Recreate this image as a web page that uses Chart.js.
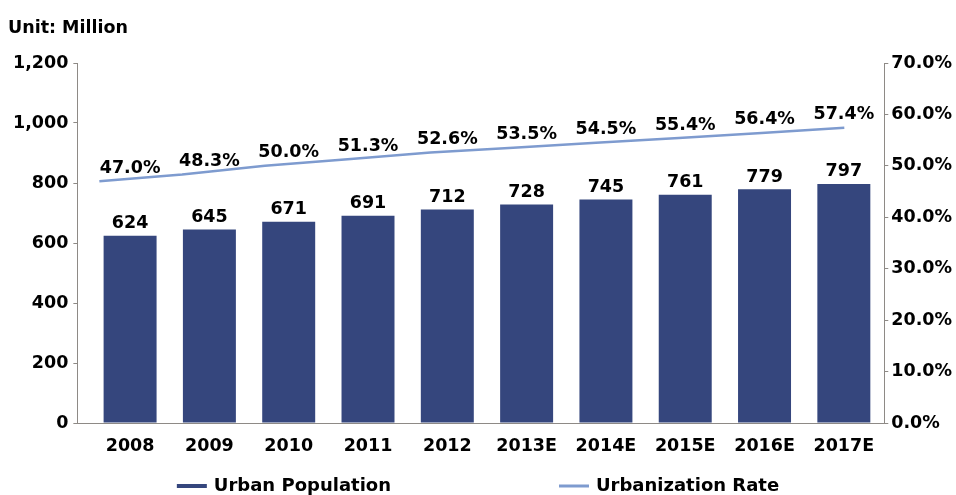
<!DOCTYPE html>
<html>
<head>
<meta charset="utf-8">
<script src="https://cdn.jsdelivr.net/npm/chart.js@4.4.1/dist/chart.umd.min.js"></script>
<style>
  html, body { margin: 0; padding: 0; background: #ffffff; }
  #wrap { width: 956px; height: 495px; }
</style>
</head>
<body>
<div id="wrap"><canvas id="urban-chart"></canvas></div>
<script>
const years = ['2008', '2009', '2010', '2011', '2012', '2013E', '2014E', '2015E', '2016E', '2017E'];
const population = [624, 645, 671, 691, 712, 728, 745, 761, 779, 797];
const urbanRate = [47.0, 48.3, 50.0, 51.3, 52.6, 53.5, 54.5, 55.4, 56.4, 57.4];
const popTicks = [0, 200, 400, 600, 800, 1000, 1200];
const rateTicks = [0, 10, 20, 30, 40, 50, 60, 70];

const FONT = '"DejaVu Sans", sans-serif';
const FONT_SIZE = 17.5;
const NAVY = '#35467d';
const LIGHT_BLUE = '#7e9bcf';
const AXIS_GREY = '#8e8a86';

// value labels above the bars and the rate labels above the line
const valueLabels = {
    id: 'valueLabels',
    afterDatasetsDraw(chart) {
        const ctx = chart.ctx;
        const bars = chart.getDatasetMeta(0).data;
        const yRate = chart.scales.yRate;
        ctx.save();
        ctx.font = 'bold ' + FONT_SIZE + 'px ' + FONT;
        ctx.fillStyle = '#000';
        ctx.textAlign = 'center';
        ctx.textBaseline = 'middle';
        bars.forEach((bar, i) => {
            ctx.fillText(String(population[i]), bar.x, bar.y - 12);
            ctx.fillText(urbanRate[i].toFixed(1) + '%', bar.x, yRate.getPixelForValue(urbanRate[i]) - 13);
        });
        ctx.restore();
    }
};

// legend row at the bottom, wide gap between the two entries
const bottomLegend = {
    id: 'bottomLegend',
    afterDraw(chart) {
        const ctx = chart.ctx;
        const items = chart.data.datasets.map(ds => ({
            text: ds.label, color: ds.legendColor, thick: ds.legendThick
        }));
        const lineLen = 30, textGap = 7, itemGap = 168;
        ctx.save();
        ctx.font = 'bold 18px ' + FONT;
        let total = 0;
        items.forEach((it, i) => {
            it.w = ctx.measureText(it.text).width;
            total += lineLen + textGap + it.w + (i > 0 ? itemGap : 0);
        });
        let x = (chart.width - total) / 2;
        const y = chart.height - 9;
        ctx.textBaseline = 'middle';
        ctx.fillStyle = '#000';
        items.forEach(it => {
            ctx.strokeStyle = it.color;
            ctx.lineWidth = it.thick;
            ctx.beginPath();
            ctx.moveTo(x, y);
            ctx.lineTo(x + lineLen, y);
            ctx.stroke();
            ctx.fillText(it.text, x + lineLen + textGap, y);
            x += lineLen + textGap + it.w + itemGap;
        });
        ctx.restore();
    }
};

function loadUrbanChart() {
    const ctx = document.getElementById('urban-chart').getContext('2d');
    const tickFont = {family: FONT, size: FONT_SIZE, weight: 'bold'};
    new Chart(ctx, {
        type: 'bar',
        data: {
            datasets: [{
                type: 'bar',
                label: 'Urban Population',
                data: population.map((v, i) => ({x: i, y: v})),
                backgroundColor: NAVY,
                borderWidth: 0,
                grouped: false,
                categoryPercentage: 1,
                barPercentage: 0.668,
                xAxisID: 'x',
                yAxisID: 'y',
                order: 1,
                legendColor: NAVY,
                legendThick: 4
            }, {
                type: 'line',
                label: 'Urbanization Rate',
                data: urbanRate.map((v, i) => ({x: i, y: v})),
                borderColor: LIGHT_BLUE,
                borderWidth: 2.5,
                pointRadius: 0,
                tension: 0,
                xAxisID: 'xLine',
                yAxisID: 'yRate',
                order: 0,
                legendColor: LIGHT_BLUE,
                legendThick: 3
            }]
        },
        plugins: [valueLabels, bottomLegend],
        options: {
            responsive: true,
            maintainAspectRatio: false,
            animation: false,
            layout: {padding: {left: 8, right: 1, top: 0, bottom: 25}},
            plugins: {
                legend: {display: false},
                tooltip: {enabled: false},
                title: {
                    display: true,
                    text: 'Unit: Million',
                    align: 'start',
                    color: '#000',
                    font: tickFont,
                    padding: {top: 18, bottom: 24}
                }
            },
            scales: {
                x: {
                    type: 'linear',
                    position: 'bottom',
                    offset: false,
                    min: -0.665,
                    max: 9.51,
                    afterBuildTicks: (axis) => { axis.ticks = years.map((_, i) => ({value: i})); },
                    ticks: {
                        autoSkip: false,
                        maxRotation: 0,
                        padding: 13,
                        color: '#000',
                        font: tickFont,
                        callback: (v) => years[v]
                    },
                    grid: {display: false, drawTicks: false, offset: false},
                    border: {display: true, color: AXIS_GREY, width: 1}
                },
                xLine: {
                    type: 'linear',
                    display: false,
                    offset: false,
                    grid: {offset: false},
                    min: -0.266,
                    max: 9.483
                },
                y: {
                    position: 'left',
                    min: 0,
                    max: 1200,
                    afterBuildTicks: (axis) => { axis.ticks = popTicks.map(v => ({value: v})); },
                    ticks: {
                        padding: 5,
                        color: '#000',
                        font: tickFont,
                        callback: (v) => v.toLocaleString('en-US')
                    },
                    grid: {drawOnChartArea: false, tickLength: 4, color: AXIS_GREY},
                    border: {display: true, color: AXIS_GREY, width: 1}
                },
                yRate: {
                    position: 'right',
                    min: 0,
                    max: 70,
                    afterBuildTicks: (axis) => { axis.ticks = rateTicks.map(v => ({value: v})); },
                    ticks: {
                        padding: 3,
                        color: '#000',
                        font: tickFont,
                        callback: (v) => v.toFixed(1) + '%'
                    },
                    grid: {drawOnChartArea: false, tickLength: 4, color: AXIS_GREY},
                    border: {display: true, color: AXIS_GREY, width: 1}
                }
            }
        }
    });
}

window.addEventListener('load', () => {
    loadUrbanChart();
});
</script>
</body>
</html>
